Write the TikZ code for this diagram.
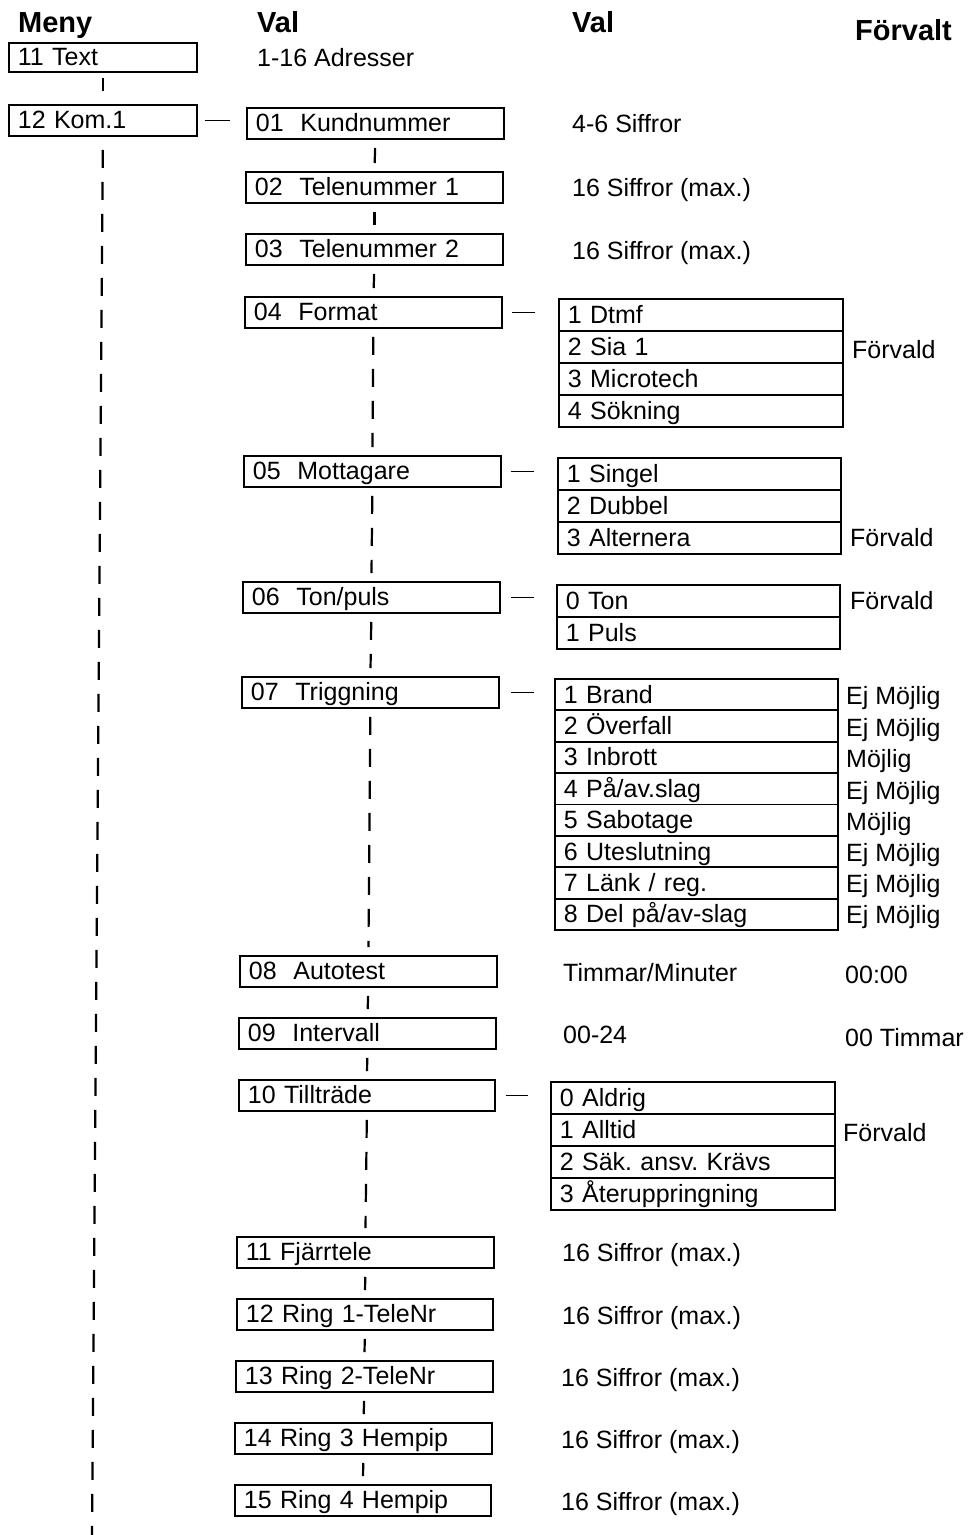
\documentclass[tikz,border=0pt]{standalone}
\usepackage{fontspec}
\setmainfont{Liberation Sans}
\frenchspacing
\begin{document}
\begin{tikzpicture}[x=1pt,y=-1pt,
  every node/.style={font=\fontsize{25}{28}\selectfont},
  bx/.style={draw, line width=1.8pt, anchor=north west, inner xsep=9pt, inner ysep=0pt,
    minimum height=31pt, text width=#1, align=left, text height=20pt, text depth=3pt},
  row/.style={bx=#1, minimum height=32pt},
  trow/.style={bx=#1, minimum height=31.4pt},
  lbl/.style={anchor=base west, inner sep=0pt, yshift=-8pt},
  hdr/.style={anchor=base west, inner sep=0pt, font=\fontsize{29}{32}\selectfont\bfseries},
  con/.style={line width=2.2pt},
  hcon/.style={line width=1.3pt},
  tick/.style={con, shorten <=8pt, shorten >=8pt},
  dsh/.style={con, dash pattern=on 18pt off 14pt, shorten <=8pt, shorten >=8pt}
]
\useasboundingbox (0,0) rectangle (970,1535);

% headers
\node[hdr] (h1) at (18,32) {Meny};
\node[hdr] (h2) at (257,32) {Val};
\node[hdr] (h3) at (572,32) {Val};
\node[hdr] (h4) at (855,40) {Förvalt};

% left column
\node[bx=170pt, minimum height=29pt] (l11) at (8,42) {11 Text};
\node[bx=170pt] (l12) at (8,104) {12 Kom.1};
\coordinate (lend) at (92,1535);

% middle column
\node[bx=239pt] (m01) at (246,107) {01\ \ Kundnummer};
\node[bx=239pt] (m02) at (245,171) {02\ \ Telenummer 1};
\node[bx=239pt] (m03) at (245,233) {03\ \ Telenummer 2};
\node[bx=239pt] (m04) at (244,296) {04\ \ Format};
\node[bx=239pt] (m05) at (243,455) {05\ \ Mottagare};
\node[bx=239pt] (m06) at (242,581) {06\ \ Ton/puls};
\node[bx=239pt] (m07) at (241,676) {07\ \ Triggning};
\node[bx=239pt] (m08) at (239,955) {08\ \ Autotest};
\node[bx=239pt] (m09) at (238,1017) {09\ \ Intervall};
\node[bx=238pt] (m10) at (238,1079) {10 Tillträde};
\node[bx=239pt] (m11) at (236,1236) {11 Fjärrtele};
\node[bx=238pt] (m12) at (236,1298) {12 Ring 1-TeleNr};
\node[bx=239pt] (m13) at (235,1360) {13 Ring 2-TeleNr};
\node[bx=239pt] (m14) at (234,1422) {14 Ring 3 Hempip};
\node[bx=238pt] (m15) at (234,1484) {15 Ring 4 Hempip};

% sub lists
\node[row=266pt] (f1) at (558,298) {1 Dtmf};
\node[row=266pt] (f2) at (558,330) {2 Sia 1};
\node[row=266pt] (f3) at (558,362) {3 Microtech};
\node[row=266pt] (f4) at (558,394) {4 Sökning};

\node[row=265pt] (r1) at (557,457) {1 Singel};
\node[row=265pt] (r2) at (557,489) {2 Dubbel};
\node[row=265pt] (r3) at (557,521) {3 Alternera};

\node[row=265pt] (t1) at (556,584) {0 Ton};
\node[row=265pt] (t2) at (556,616) {1 Puls};

\node[trow=265pt] (g1) at (554,678) {1 Brand};
\node[trow=265pt] (g2) at (554,709.4) {2 Överfall};
\node[trow=265pt] (g3) at (554,740.8) {3 Inbrott};
\node[trow=265pt] (g4) at (554,772.2) {4 På/av.slag};
\node[trow=265pt] (g5) at (554,803.6) {5 Sabotage};
\node[trow=265pt] (g6) at (554,835) {6 Uteslutning};
\node[trow=265pt] (g7) at (554,866.4) {7 Länk / reg.};
\node[trow=265pt] (g8) at (554,897.8) {8 Del på/av-slag};

\node[row=266pt] (a1) at (550,1081) {0 Aldrig};
\node[row=266pt] (a2) at (550,1113) {1 Alltid};
\node[row=266pt] (a3) at (550,1145) {2 Säk. ansv. Krävs};
\node[row=266pt] (a4) at (550,1177) {3 Återuppringning};

% labels
\node[lbl] (x1) at (257,58) {1-16 Adresser};
\node[lbl] (x2) at (572,124) {4-6 Siffror};
\node[lbl] (x3) at (572,188) {16 Siffror (max.)};
\node[lbl] (x4) at (572,251) {16 Siffror (max.)};
\node[lbl] (x5) at (852,350) {Förvald};
\node[lbl] (x6) at (850,538) {Förvald};
\node[lbl] (x7) at (850,601) {Förvald};
\node[lbl] (e1) at (846,696) {Ej Möjlig};
\node[lbl] (e2) at (846,728) {Ej Möjlig};
\node[lbl] (e3) at (846,759) {Möjlig};
\node[lbl] (e4) at (846,791) {Ej Möjlig};
\node[lbl] (e5) at (846,822) {Möjlig};
\node[lbl] (e6) at (846,853) {Ej Möjlig};
\node[lbl] (e7) at (846,884) {Ej Möjlig};
\node[lbl] (e8) at (846,915) {Ej Möjlig};
\node[lbl] (x8) at (563,973) {Timmar/Minuter};
\node[lbl] (x9) at (845,975) {00:00};
\node[lbl] (x10) at (563,1035) {00-24};
\node[lbl] (x11) at (845,1038) {00 Timmar};
\node[lbl] (x12) at (843,1133) {Förvald};
\node[lbl] (x13) at (562,1253) {16 Siffror (max.)};
\node[lbl] (x14) at (562,1316) {16 Siffror (max.)};
\node[lbl] (x15) at (561,1378) {16 Siffror (max.)};
\node[lbl] (x16) at (561,1440) {16 Siffror (max.)};
\node[lbl] (x17) at (561,1502) {16 Siffror (max.)};

% left connectors
\draw[con, shorten <=5pt, shorten >=13pt] (l11.south) -- (l12.north);
\draw[con, dash pattern=on 18pt off 14pt, shorten <=13pt] (l12.south) -- (lend);
\draw[hcon, shorten <=7pt, shorten >=16pt] (l12.east) -- (l12.east -| m01.west);

% middle connectors
\draw[tick] (m01.south) -- (m02.north);
\draw[tick] (m02.south) -- (m03.north);
\draw[tick] (m03.south) -- (m04.north);
\draw[dsh] (m04.south) -- (m05.north);
\draw[dsh] (m05.south) -- (m06.north);
\draw[dsh] (m06.south) -- (m07.north);
\draw[dsh] (m07.south) -- (m08.north);
\draw[tick] (m08.south) -- (m09.north);
\draw[tick] (m09.south) -- (m10.north);
\draw[dsh] (m10.south) -- (m11.north);
\draw[tick] (m11.south) -- (m12.north);
\draw[tick] (m12.south) -- (m13.north);
\draw[tick] (m13.south) -- (m14.north);
\draw[tick] (m14.south) -- (m15.north);

% dashes to sub lists
\draw[hcon, shorten <=9pt, shorten >=23pt] (m04.east) -- (m04.east -| f1.west);
\draw[hcon, shorten <=9pt, shorten >=23pt] (m05.east) -- (m05.east -| r1.west);
\draw[hcon, shorten <=10pt, shorten >=22pt] (m06.east) -- (m06.east -| t1.west);
\draw[hcon, shorten <=11pt, shorten >=20pt] (m07.east) -- (m07.east -| g1.west);
\draw[hcon, shorten <=10pt, shorten >=22pt] (m10.east) -- (m10.east -| a1.west);
\end{tikzpicture}
\end{document}
